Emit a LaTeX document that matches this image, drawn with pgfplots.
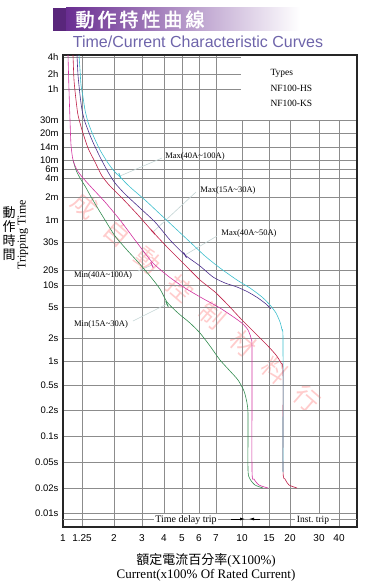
\documentclass[border=0pt]{standalone}
\usepackage{pgfplots}
\pgfplotsset{compat=1.18}
\usetikzlibrary{arrows.meta}
\usepackage{fontspec}
\setmainfont{Liberation Sans}
\newfontfamily\serif{Liberation Serif}
\newfontfamily\cjk{Noto Sans CJK TC}
\newfontfamily\cjkb[AutoFakeBold=2]{Noto Sans CJK TC}
\definecolor{ccyan}{RGB}{60,190,205}
\definecolor{cpurple}{RGB}{75,45,140}
\definecolor{cred}{RGB}{190,30,70}
\definecolor{cmag}{RGB}{210,50,160}
\definecolor{cgreen}{RGB}{50,140,80}
\definecolor{leader}{RGB}{195,212,212}
\definecolor{titlep}{RGB}{105,45,145}
\definecolor{subt}{RGB}{110,100,170}
\begin{document}
\begin{tikzpicture}[x=1bp,y=-1bp]
\useasboundingbox (0,0) rectangle (364,588);
% title banner
\fill[titlep!85!black] (53,8) rectangle (66,31);
\shade[left color=titlep, right color=white] (66,8) rectangle (300,31);
\node[text=white, font=\cjkb\bfseries\fontsize{19bp}{19bp}\selectfont] at (140,19.5) {動\hspace{3bp}作\hspace{3bp}特\hspace{3bp}性\hspace{3bp}曲\hspace{3bp}線};
\node[text=subt, font=\fontsize{16bp}{16bp}\selectfont] at (198,42) {Time/Current Characteristic Curves};
% watermark (behind the chart lines)
\node[rotate=-41, text=red, opacity=0.2, font=\cjk\fontsize{25bp}{25bp}\selectfont] at (196,302) {成\hspace{17bp}自\hspace{17bp}動\hspace{17bp}控\hspace{17bp}制\hspace{17bp}材\hspace{17bp}料\hspace{17bp}行};
\begin{axis}[
  at={(63,527)}, anchor=south west,
  scale only axis, width=294bp, height=472bp,
  xmin=63, xmax=357, ymin=55, ymax=527, y dir=reverse,
  axis line style={black!85, line width=1.2pt},
  grid=major, major grid style={black!45, line width=0.5pt},
  major tick length=0pt,
  xtick={63,82,114,142,164,182,199,216,242,269,290,319,339},
  xticklabels={1,1.25,2,3,4,5,6,7,10,15,20,30,40},
  ytick={57,74,89,120,133,147,160,169,178,197,220,242,270,285,307,338,361,385,410,436,462,488,513},
  yticklabels={4h,2h,1h,30m,20m,14m,10m,6m,4m,2m,1m,30s,20s,10s,5s,2s,1s,0.5s,0.2s,0.1s,0.05s,0.02s,0.01s},
  extra y ticks={519}, extra y tick labels={},
  xticklabel style={font=\fontsize{10bp}{10bp}\selectfont, yshift=-4bp},
  yticklabel style={font=\fontsize{9.5bp}{9.5bp}\selectfont, xshift=-1bp},
]
% Types box
\fill[white] (axis cs:241,56) rectangle (axis cs:356,119.5);
\node[anchor=west, font=\serif\fontsize{9.5bp}{9.5bp}\selectfont] at (axis cs:267,73) {Types};
\node[anchor=west, font=\serif\fontsize{9.5bp}{9.5bp}\selectfont] at (axis cs:267,88) {NF100-HS};
\node[anchor=west, font=\serif\fontsize{9.5bp}{9.5bp}\selectfont] at (axis cs:267,103) {NF100-KS};
% leader lines
\addplot[leader, line width=0.6pt] coordinates {(120,176) (162,158)};
\addplot[leader, line width=0.6pt] coordinates {(153,232) (196,192)};
\addplot[leader, line width=0.6pt] coordinates {(185,255) (217,236)};
\addplot[leader, line width=0.6pt] coordinates {(138,271) (152,265)};
\addplot[leader, line width=0.6pt] coordinates {(133,321) (167,304)};
% curves
\addplot[cgreen, line width=0.6pt, smooth, tension=0.4] coordinates {
(73,160) (76,170) (80,178) (85,186) (90,195) (97,207) (105,220) (115,236) (127,250) (138,262) (150,276) (160,289) (167,302) (178,313) (190,323) (200,333) (210,346) (220,360) (230,371) (238,380) (244,391) (247,403) (248,415) (248,470) (250,479) (255,485) (263,488)};
\addplot[cmag, line width=0.6pt, smooth, tension=0.4] coordinates {
(68,55) (69,90) (70,120) (71,145) (73,160) (77,170) (83,178) (92,188) (105,202) (120,220) (135,240) (152,262) (168,276) (185,288) (202,298) (220,308) (235,318) (243,324) (248,330) (251,338) (252,350) (252,470) (254,479) (259,485) (268,488)};
\addplot[cred, line width=0.6pt, smooth, tension=0.4] coordinates {
(73,55) (74,80) (76,100) (78,115) (82,130) (88,148) (95,162) (102,176) (110,186) (122,198) (138,215) (153,232) (168,248) (185,265) (200,280) (215,292) (228,305) (242,320) (255,333) (267,345) (276,355) (281,363) (283,372) (283,470) (285,479) (289,485) (297,488)};
\addplot[cpurple, line width=0.6pt, smooth, tension=0.4] coordinates {
(77,55) (78,75) (80,95) (82,110) (85,122) (92,140) (100,157) (108,172) (115,183) (125,194) (140,208) (155,222) (170,240) (185,255) (200,266) (213,277) (225,283) (237,287) (248,292) (258,298) (266,304) (271,309)};
\addplot[ccyan, line width=0.6pt, smooth, tension=0.4] coordinates {
(79,55) (80,70) (81,85) (83,97) (85,110) (88,122) (93,135) (100,150) (108,163) (114,171) (120,177) (130,187) (145,200) (160,214) (175,228) (190,242) (205,256) (220,268) (237,280) (250,288) (262,297) (270,305) (276,313) (280,322) (282,330) (283,340) (283,472)};
% small marks at leader ends
\addplot[ccyan, line width=0.9pt] coordinates {(118.8,173.2) (121.2,178.8)};
\addplot[cred, line width=0.9pt] coordinates {(151,229.8) (155,234.2)};
\addplot[cpurple, line width=0.9pt] coordinates {(183.5,252.4) (186.5,257.6)};
\addplot[cmag, line width=0.9pt] coordinates {(150.8,262.3) (153.2,267.7)};
\addplot[cgreen, line width=0.9pt] coordinates {(165.7,301.3) (168.3,306.7)};
% curve labels
\node[font=\serif\fontsize{8.5bp}{8.5bp}\selectfont] at (axis cs:195,156) {Max(40A\textasciitilde100A)};
\node[font=\serif\fontsize{8.5bp}{8.5bp}\selectfont] at (axis cs:228,190) {Max(15A\textasciitilde30A)};
\node[font=\serif\fontsize{8.5bp}{8.5bp}\selectfont] at (axis cs:249,233) {Max(40A\textasciitilde50A)};
\node[font=\serif\fontsize{8.5bp}{8.5bp}\selectfont] at (axis cs:103,275) {Min(40A\textasciitilde100A)};
\node[font=\serif\fontsize{8.5bp}{8.5bp}\selectfont] at (axis cs:101,324) {Min(15A\textasciitilde30A)};
% bottom annotations
\node[fill=white, inner sep=1.5bp, font=\serif\fontsize{10bp}{10bp}\selectfont] at (axis cs:186,520) {Time delay trip};
\node[fill=white, inner sep=1.5bp, font=\serif\fontsize{9.5bp}{9.5bp}\selectfont] at (axis cs:313,520) {Inst.\ trip};
\draw[black, line width=0.7pt, -{Latex[length=5bp,width=3bp]}] (axis cs:231,519) -- (axis cs:245,519);
\draw[black, line width=0.7pt, -{Latex[length=5bp,width=3bp]}] (axis cs:260,519) -- (axis cs:249,519);
\end{axis}
% axis titles
\node[rotate=90, font=\serif\fontsize{12bp}{12bp}\selectfont] at (23,235) {Tripping Time};
\node[font=\cjk\fontsize{13bp}{14bp}\selectfont, align=center] at (9,234) {動\\作\\時\\間};
\node[font=\fontsize{13bp}{13bp}\selectfont] at (206,560) {{\cjk 額定電流百分率}{\serif(X100\%)}};
\node[font=\serif\fontsize{13bp}{13bp}\selectfont] at (206,575) {Current(x100\% Of Rated Current)};
\end{tikzpicture}
\end{document}
